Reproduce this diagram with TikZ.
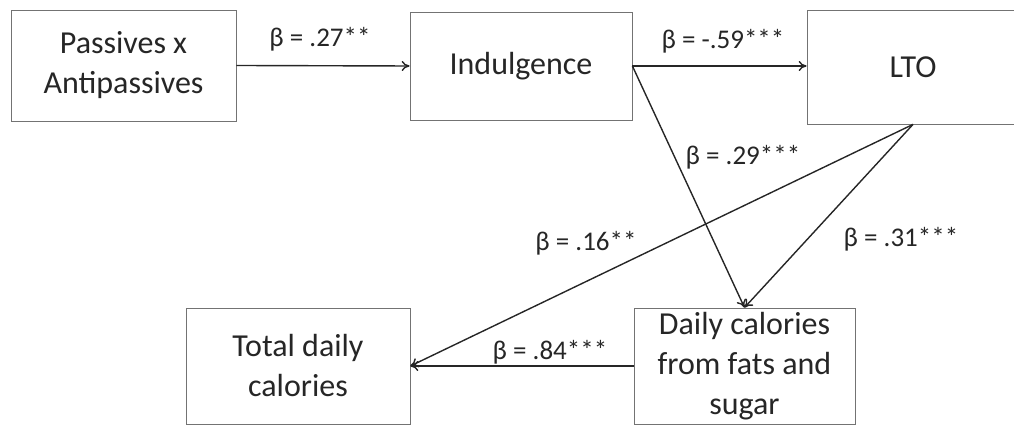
\documentclass[tikz,border=0pt]{standalone}
\usepackage{fontspec}
\setmainfont{Carlito}
\usetikzlibrary{arrows.meta}
\newcommand{\px}{0.5pt}

\begin{document}
\begin{tikzpicture}[x=\px, y=-\px,
    rect/.style={draw=black!55, rectangle, minimum width=222*\px, minimum height=111*\px, align=center, inner sep=0pt, text=black!85, font=\fontsize{16}{20}\selectfont},
    link/.style={-{To[length=4pt,width=5pt]}, draw=black!85, line width=0.7pt},
    beta/.style={inner sep=0pt, text=black!85, font=\fontsize{13.5}{15}\selectfont}]
    \clip (0,0) rectangle (1014,426);

    % Top row
    \node[rect, minimum width=225*\px] (rect-pass) at (123.5,65.5) {Passives x\\Antipassives};
    \node[rect, minimum height=108*\px] (rect-indul) at (521,66) {Indulgence};
    \node[rect, minimum width=212*\px, minimum height=114*\px] (rect-lto) at (913,67) {LTO};

    % Bottom row
    \node[rect, minimum width=224*\px, minimum height=116*\px] (rect-total) at (298,366) {Total daily\\calories};
    \node[rect, minimum width=221*\px, minimum height=116*\px] (rect-daily) at (744.5,366) {Daily calories\\from fats and\\sugar};

    % Paths
    \draw[link] (rect-pass.east) -- (rect-indul.west);
    \draw[link] (rect-indul.east) -- (rect-lto.west |- rect-indul.east);
    \draw[link] (rect-indul.east) -- (rect-daily.north);
    \draw[link] (rect-lto.south) -- (rect-daily.north);
    \draw[link] (rect-lto.south) -- (rect-total.east);
    \draw[link] (rect-daily.west) -- (rect-total.east);

    % Coefficients
    \node[beta] (beta-27) at (320,39) {β = .27**};
    \node[beta] (beta-59) at (723,41) {β = -.59***};
    \node[beta] (beta-29) at (743,157) {β = .29***};
    \node[beta] (beta-31) at (901,239) {β = .31***};
    \node[beta] (beta-16) at (586,243) {β = .16**};
    \node[beta] (beta-84) at (550,352) {β = .84***};

\end{tikzpicture}
\end{document}
